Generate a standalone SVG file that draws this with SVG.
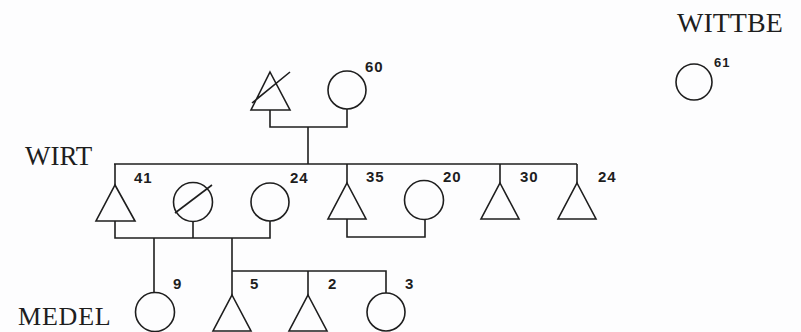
<svg xmlns="http://www.w3.org/2000/svg" width="801" height="332" viewBox="0 0 801 332">
<style>
.s{fill:none;stroke:#1e1e1e;stroke-width:1.6}
.n{font-family:"Liberation Sans",Arial,sans-serif;font-weight:bold;font-size:15px;fill:#1e1e1e;letter-spacing:1px}
.t{font-family:"Liberation Serif","Times New Roman",serif;font-size:27px;fill:#1e1e1e}
</style>
<rect width="801" height="332" fill="#fdfdfe"/>
<text class="t" x="677" y="32" style="font-size:28px">WITTBE</text>
<text class="t" x="25" y="165">WIRT</text>
<text class="t" x="18" y="325" style="font-size:26px;letter-spacing:0.8px">MEDEL</text>
<g id="connectors" class="s">
<path d="M270 110V127H347V109M308 127V164M114 164H577M115 164V185M347 164V183M500 164V183M577 164V183"/>
<path d="M115 221V238H270V221M193 222V238"/>
<path d="M347 219V237H425V220"/>
<path d="M154 238V293M232 238V295M232 271H386V293M308 271V295"/>
</g>
<g id="grandfather"><path class="s" d="M270 72L290 110H251Z M252 103L290 72"/></g>
<g id="grandmother"><circle class="s" cx="347" cy="90" r="19"/><text class="n" x="365" y="72">60</text></g>
<g id="wittbe"><circle class="s" cx="694" cy="82" r="18"/><text class="n" x="714" y="67" style="font-size:13px">61</text></g>
<g id="m41"><path class="s" d="M115 185L135 221H96Z"/><text class="n" x="134" y="183">41</text></g>
<g id="fdeceased"><circle class="s" cx="193" cy="202" r="19.5"/><path class="s" d="M175 213L212 185"/></g>
<g id="f24"><circle class="s" cx="270" cy="202" r="19"/><text class="n" x="290" y="183">24</text></g>
<g id="m35"><path class="s" d="M347 183L366 219H328Z"/><text class="n" x="366" y="182">35</text></g>
<g id="f20"><circle class="s" cx="424" cy="200" r="19.5"/><text class="n" x="443" y="182">20</text></g>
<g id="m30"><path class="s" d="M500 183L519 219H481Z"/><text class="n" x="520" y="182">30</text></g>
<g id="m24"><path class="s" d="M577 183L596 219H558Z"/><text class="n" x="598" y="182">24</text></g>
<g id="f9"><circle class="s" cx="155" cy="312" r="19.5"/><text class="n" x="173" y="289">9</text></g>
<g id="m5"><path class="s" d="M232 295L251 331H213Z"/><text class="n" x="250" y="289">5</text></g>
<g id="m2"><path class="s" d="M308 295L327 331H289Z"/><text class="n" x="328" y="289">2</text></g>
<g id="f3"><circle class="s" cx="386" cy="312" r="19"/><text class="n" x="405" y="289">3</text></g>
</svg>
